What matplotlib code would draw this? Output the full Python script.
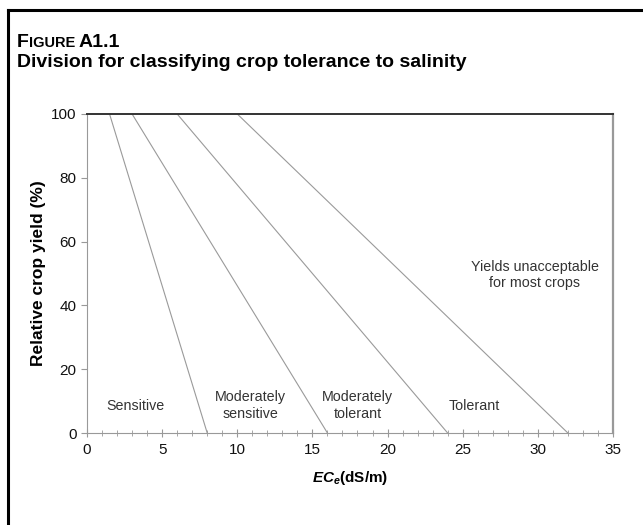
"""
Crop tolerance to salinity divisions (FAO Figure A1.1).
"""

import matplotlib
matplotlib.use('Agg')
import matplotlib.pyplot as plt
from matplotlib.lines import Line2D
from matplotlib.ticker import MultipleLocator

plt.rcParams['font.family'] = ['Liberation Sans', 'DejaVu Sans']
plt.rcParams['mathtext.fontset'] = 'custom'
plt.rcParams['mathtext.it'] = 'Liberation Sans:italic:bold'
plt.rcParams['mathtext.rm'] = 'Liberation Sans:bold'

# division lines: EC at 100 % yield (threshold) and EC at 0 % yield
ec_threshold = [1.5, 3, 6, 10]
ec_zero_yield = [8, 16, 24, 32]

class_labels = ['Sensitive', 'Moderately\nsensitive', 'Moderately\ntolerant',
                'Tolerant', 'Yields unacceptable\nfor most crops']
class_label_x = [3.2, 10.9, 18.0, 25.8, 29.8]
class_label_y = [8.4, 8.6, 8.6, 8.5, 49.5]

x_ticks = [0, 5, 10, 15, 20, 25, 30, 35]
y_ticks = [0, 20, 40, 60, 80, 100]

fig = plt.figure(figsize=(6.43, 5.25), dpi=100)
ax = fig.add_axes([0.1353, 0.1752, 0.818, 0.6077])

for x0, x1 in zip(ec_threshold, ec_zero_yield):
    ax.plot([x0, x1], [100, 0], color='#9a9a9a', lw=0.8)

for lab, lx, ly in zip(class_labels, class_label_x, class_label_y):
    ax.text(lx, ly, lab, ha='center', va='center', fontsize=10.3,
            color='#333333', linespacing=1.2)

ax.set_xlim(0, 35)
ax.set_ylim(0, 100)
ax.set_xticks(x_ticks)
ax.set_yticks(y_ticks)
ax.xaxis.set_minor_locator(MultipleLocator(1))
ax.tick_params(axis='both', labelsize=11, colors='#999999', labelcolor='#111111')
ax.tick_params(axis='x', direction='inout', length=6, pad=4)
ax.tick_params(axis='x', which='minor', direction='inout', length=4, colors='#999999')
ax.tick_params(axis='y', direction='out', length=4)

for s in ['left', 'bottom', 'right']:
    ax.spines[s].set_color('#999999')
ax.spines['right'].set_linewidth(1.6)
ax.spines['top'].set_color('#333333')
ax.spines['top'].set_linewidth(1.4)

ax.set_xlabel(r'$EC_e$(dS/m)', fontsize=11, fontweight='bold', labelpad=9)
ax.set_ylabel('Relative crop yield (%)', fontsize=12.5, fontweight='bold', labelpad=4)

# title: "FIGURE" in small caps
fig.canvas.draw()
r = fig.canvas.get_renderer()
t1 = fig.text(17 / 643, 1 - 47 / 525, 'F', fontsize=14, fontweight='bold')
bb = t1.get_window_extent(r)
t2 = fig.text(bb.x1 / 643, 1 - 47 / 525, 'IGURE', fontsize=10.5, fontweight='bold')
bb2 = t2.get_window_extent(r)
fig.text(bb2.x1 / 643 + 3 / 643, 1 - 47 / 525, 'A1.1', fontsize=14, fontweight='bold')
fig.text(17 / 643, 1 - 67 / 525, 'Division for classifying crop tolerance to salinity',
         fontsize=14, fontweight='bold')

# page frame edges (top and left)
fig.add_artist(Line2D([7.5 / 643, 1], [1 - 9.5 / 525, 1 - 9.5 / 525],
                      transform=fig.transFigure, color='black', lw=2.2))
fig.add_artist(Line2D([7.5 / 643, 7.5 / 643], [0, 1 - 9.5 / 525],
                      transform=fig.transFigure, color='black', lw=2.2))

fig.savefig('out.png', dpi=100)
